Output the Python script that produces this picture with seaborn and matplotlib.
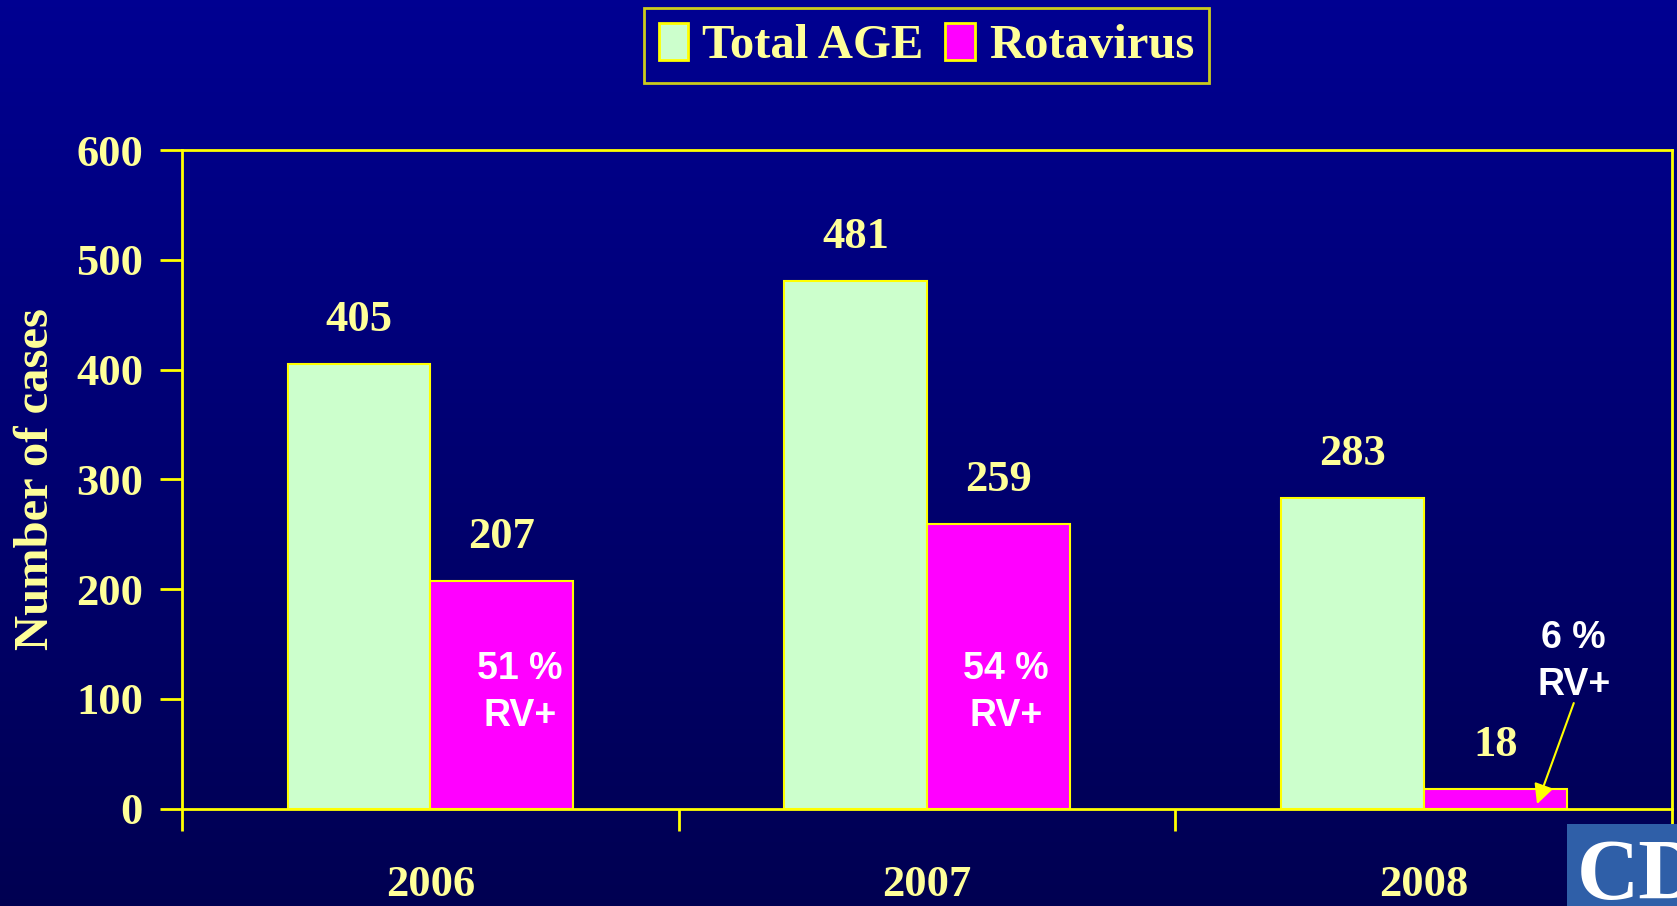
import numpy as np
import pandas as pd
import seaborn as sns
import matplotlib.pyplot as plt
from matplotlib.patches import Patch, Rectangle

years = ["2006", "2007", "2008"]
total_age = [405, 481, 283]
rotavirus = [207, 259, 18]
rv_share = ["51 %\nRV+", "54 %\nRV+", "6 %\nRV+"]
series_names = ["Total AGE", "Rotavirus"]
y_ticks = [0, 100, 200, 300, 400, 500, 600]

GREEN = "#CCFFCC"
MAGENTA = "#FF00FF"
YELLOW = "#FFFF00"
TEXT = "#FFFF99"

df = pd.DataFrame({
    "year": years * 2,
    "cases": total_age + rotavirus,
    "series": [series_names[0]] * 3 + [series_names[1]] * 3,
})

sns.set_style("white")
plt.rcParams["font.family"] = ["Liberation Serif", "DejaVu Serif"]

fig = plt.figure(figsize=(16.77, 9.06), dpi=100)

# gradient background
bg = fig.add_axes([0, 0, 1, 1], zorder=-10)
grad = np.linspace(0, 1, 256).reshape(-1, 1)
top = np.array([0.0, 0.0, 0.57])
bot = np.array([0.0, 0.0, 0.32])
img = top + (bot - top) * grad[:, :, None]
bg.imshow(img, aspect="auto", extent=[0, 1, 0, 1])
bg.axis("off")

ax = fig.add_axes([0.1085, 0.1076, 0.8886, 0.7268])
ax.set_facecolor("none")

sns.barplot(
    data=df, x="year", y="cases", hue="series",
    palette=[GREEN, MAGENTA], width=0.575, saturation=1,
    edgecolor=YELLOW, linewidth=1.5, ax=ax, legend=False,
)

ax.set_xlim(-0.5, 2.5)
ax.set_ylim(0, 600)
ax.set_yticks(y_ticks)
ax.set_yticklabels([str(t) for t in y_ticks], fontsize=32, fontweight="bold", color=TEXT)
ax.tick_params(axis="y", length=16, width=2, color=YELLOW, pad=12, left=True)

ax.set_xticks([-0.5, 0.5, 1.5, 2.5])
ax.set_xticklabels([])
ax.set_xticks([0, 1, 2], minor=True)
ax.set_xticklabels(years, minor=True, fontsize=32, fontweight="bold", color=TEXT)
ax.tick_params(axis="x", which="major", length=16, width=2, color=YELLOW, bottom=True)
ax.tick_params(axis="x", which="minor", length=0, pad=41)

ax.set_xlabel("")
ax.set_ylabel("Number of cases", fontsize=35, fontweight="bold", color=TEXT, labelpad=13)

for side in ["left", "bottom", "top", "right"]:
    ax.spines[side].set_visible(True)
    ax.spines[side].set_color(YELLOW)
    ax.spines[side].set_linewidth(2)

# value labels above bars
offset = 0.144
for i in range(len(years)):
    ax.text(i - offset, total_age[i] + 40, str(total_age[i]), ha="center", va="center",
            fontsize=32, fontweight="bold", color=TEXT)
    ax.text(i + offset, rotavirus[i] + 40, str(rotavirus[i]), ha="center", va="center",
            fontsize=32, fontweight="bold", color=TEXT)

# percentage annotations
share_shift = [0.037, 0.015]
for i in range(2):
    ax.text(i + offset + share_shift[i], 106, rv_share[i], ha="center", va="center",
            fontsize=27, fontweight="bold", color="white", family="Liberation Sans",
            linespacing=1.4)
ax.annotate(rv_share[2], xy=(2.228, 4), xytext=(2.302, 134), ha="center", va="center",
            fontsize=27, fontweight="bold", color="white", family="Liberation Sans",
            linespacing=1.4,
            arrowprops=dict(arrowstyle="-|>", color=YELLOW, lw=1.5, mutation_scale=30,
                            shrinkA=0, shrinkB=0, patchA=None,
                            relpos=(0.5, 0.0)))

# legend
handles = [Patch(facecolor=GREEN, edgecolor=YELLOW, linewidth=2),
           Patch(facecolor=MAGENTA, edgecolor=YELLOW, linewidth=2)]
leg = fig.legend(handles, series_names, loc="center", bbox_to_anchor=(0.5525, 0.95),
                 ncol=2, frameon=True, fancybox=False,
                 prop={"family": "Liberation Serif", "weight": "bold", "size": 35},
                 handlelength=0.6, handleheight=0.8, handletextpad=0.3,
                 columnspacing=0.45, borderpad=0.3, borderaxespad=0)
leg.get_frame().set_facecolor("none")
leg.get_frame().set_edgecolor(YELLOW)
leg.get_frame().set_linewidth(2)
for t in leg.get_texts():
    t.set_color(TEXT)

# logo corner
logo = Rectangle((0.9344, 0), 0.0656, 0.0905, transform=fig.transFigure,
                 facecolor="#2F5FA8", edgecolor="none", zorder=5)
fig.patches.append(logo)
logo_text = fig.text(0.9405, 0.030, "CDC", fontsize=62, fontweight="bold", color="white",
                     va="center", ha="left", zorder=6)
logo_text.set_clip_path(logo)

fig.savefig("out.png", dpi=100)
